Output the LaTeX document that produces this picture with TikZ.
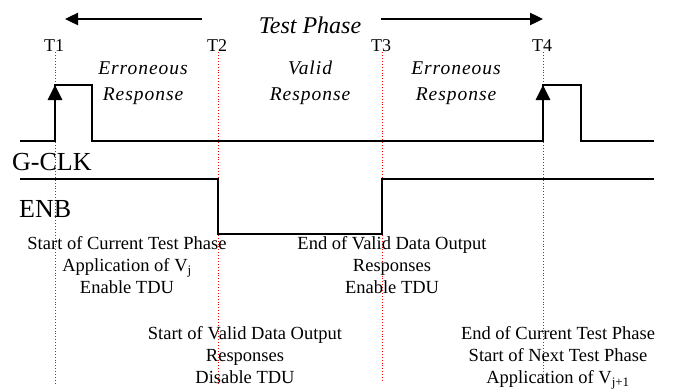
\documentclass[tikz,border=0pt]{standalone}
\usepackage{fontspec}
\setmainfont{Liberation Serif}
\newfontfamily\spacedit[LetterSpace=5,ItalicFont={Liberation Serif Italic}]{Liberation Serif}
\usetikzlibrary{arrows.meta}
\begin{document}
\begin{tikzpicture}[x=1pt,y=-1pt,
  wave/.style={line width=2.8pt,line join=miter},
  marker/.style={red,dotted,line width=0.9pt},
  tlabel/.style={font=\fontsize{18}{20}\selectfont,inner sep=0pt},
  siglabel/.style={font=\fontsize{26}{28}\selectfont,inner sep=0pt,anchor=west},
  region/.style={font=\spacedit\itshape\fontsize{19.5}{26}\selectfont,align=center,inner sep=0pt},
  note/.style={font=\fontsize{18.5}{22.3}\selectfont,align=center,inner sep=0pt},
  phasearrow/.style={line width=2.4pt,-{Triangle[width=12pt,length=13pt]}},
  edgearrow/.style={line width=2.8pt,-{Triangle[width=14pt,length=15pt]}}]
\useasboundingbox (0,0) rectangle (674,388);

% time markers
\foreach \n/\x/\b in {1/55/383, 2/218/385, 3/382/380, 4/543/380}{
  \node[tlabel] (t\n) at (\x-1,46) {T\n};
  \coordinate (m\n) at (\x,\b);
  \draw[marker] (t\n.south -| m\n) -- (m\n);
}

% test phase span
\node[font=\itshape\fontsize{24}{26}\selectfont,inner sep=0pt] (phase) at (310,25) {Test Phase};
\coordinate (pl) at (65,19);
\coordinate (pr) at (543,19);
\draw[phasearrow] (202,19) -- (pl);
\draw[phasearrow] (381,19) -- (pr);

% regions between the markers
\node[region] (err1) at (143,83) {Erroneous\\Response};
\node[region] (valid) at (310,83) {Valid\\Response};
\node[region] (err2) at (456,83) {Erroneous\\Response};

% G-CLK waveform
\coordinate (c0) at (20,141);
\coordinate (c1) at (55,141);
\coordinate (c2) at (55,85);
\coordinate (c3) at (92,85);
\coordinate (c4) at (92,141);
\coordinate (c5) at (543,141);
\coordinate (c6) at (543,85);
\coordinate (c7) at (581,85);
\coordinate (c8) at (581,141);
\coordinate (c9) at (654,141);
\draw[wave] (c0) -- (c1) -- (c2) -- (c3) -- (c4) -- (c5) -- (c6) -- (c7) -- (c8) -- (c9);
\draw[edgearrow] (c1) -- (c2);
\draw[edgearrow] (c5) -- (c6);
\node[siglabel] (gclk) at (12,162) {G-CLK};

% ENB waveform
\coordinate (e0) at (20,179);
\coordinate (e1) at (218,179);
\coordinate (e2) at (218,234);
\coordinate (e3) at (382,234);
\coordinate (e4) at (382,179);
\coordinate (e5) at (654,179);
\draw[wave] (e0) -- (e1) -- (e2) -- (e3) -- (e4) -- (e5);
\node[siglabel] (enb) at (19,209) {ENB};

% event descriptions
\node[note,anchor=north] (n1) at (127,236) {Start of Current Test Phase\\Application of V\textsubscript{j}\\Enable TDU};
\node[note,anchor=north] (n3) at (392,236) {End of Valid Data Output\\Responses\\Enable TDU};
\node[note,anchor=north] (n2) at (245,326) {Start of Valid Data Output\\Responses\\Disable TDU};
\node[note,anchor=north] (n4) at (558,326) {End of Current Test Phase\\Start of Next Test Phase\\Application of V\textsubscript{j+1}};
\end{tikzpicture}
\end{document}
